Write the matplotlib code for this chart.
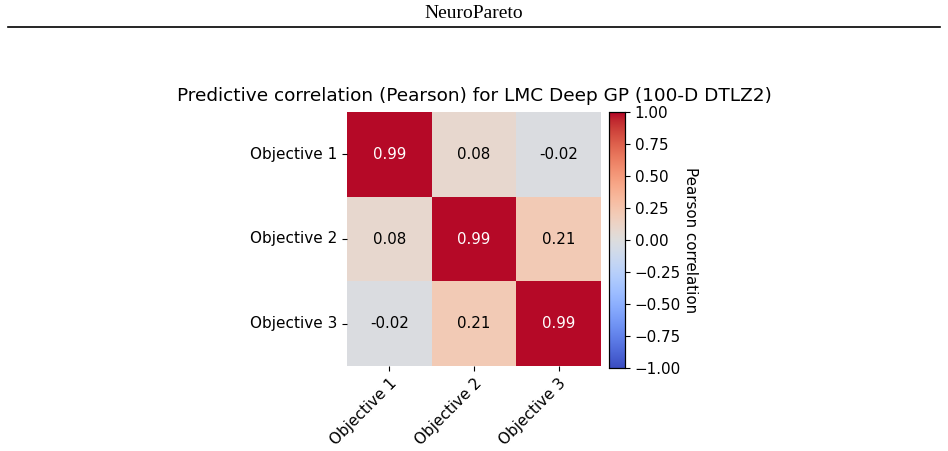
import matplotlib
matplotlib.use("Agg")
import matplotlib.pyplot as plt
import seaborn as sns
import numpy as np

# correlation values
labels = ["Objective 1", "Objective 2", "Objective 3"]
corr = [
    [0.99, 0.08, -0.02],
    [0.08, 0.99, 0.21],
    [-0.02, 0.21, 0.99],
]

W, H = 948, 451
fig = plt.figure(figsize=(W / 100, H / 100), dpi=100)

# page header
fig.text(0.5, 1 - 14 / H, "NeuroPareto", ha="center", va="center",
         family="Liberation Serif", fontsize=14)
fig.add_artist(plt.Line2D([8 / W, 940 / W], [1 - 27 / H, 1 - 27 / H],
                          color="black", linewidth=1.2))

ax = fig.add_axes([347 / W, 1 - 366 / H, 254 / W, 254 / H])
cax = fig.add_axes([609 / W, 1 - 368 / H, 16 / W, 256 / H])

sns.heatmap(np.array(corr), ax=ax, cbar_ax=cax, cmap="coolwarm", vmin=-1, vmax=1,
            annot=True, fmt=".2f", annot_kws={"fontsize": 10.8},
            xticklabels=labels, yticklabels=labels)
for t in ax.texts:
    if t.get_color() != "w" and t.get_color() != "white":
        t.set_color("black")

ax.set_title("Predictive correlation (Pearson) for LMC Deep GP (100-D DTLZ2)",
             fontsize=13.3, pad=8)
ax.tick_params(labelsize=11)
plt.setp(ax.get_xticklabels(), rotation=45, ha="right", rotation_mode="anchor")
plt.setp(ax.get_yticklabels(), rotation=0)

cax.tick_params(labelsize=10.9)
cax.set_ylabel("Pearson correlation", rotation=270, labelpad=12, fontsize=10.9)
cax.set_yticks(np.arange(-1, 1.01, 0.25))
for s in cax.spines.values():
    s.set_visible(True)
    s.set_linewidth(0.8)

fig.savefig("out.png", dpi=100)
